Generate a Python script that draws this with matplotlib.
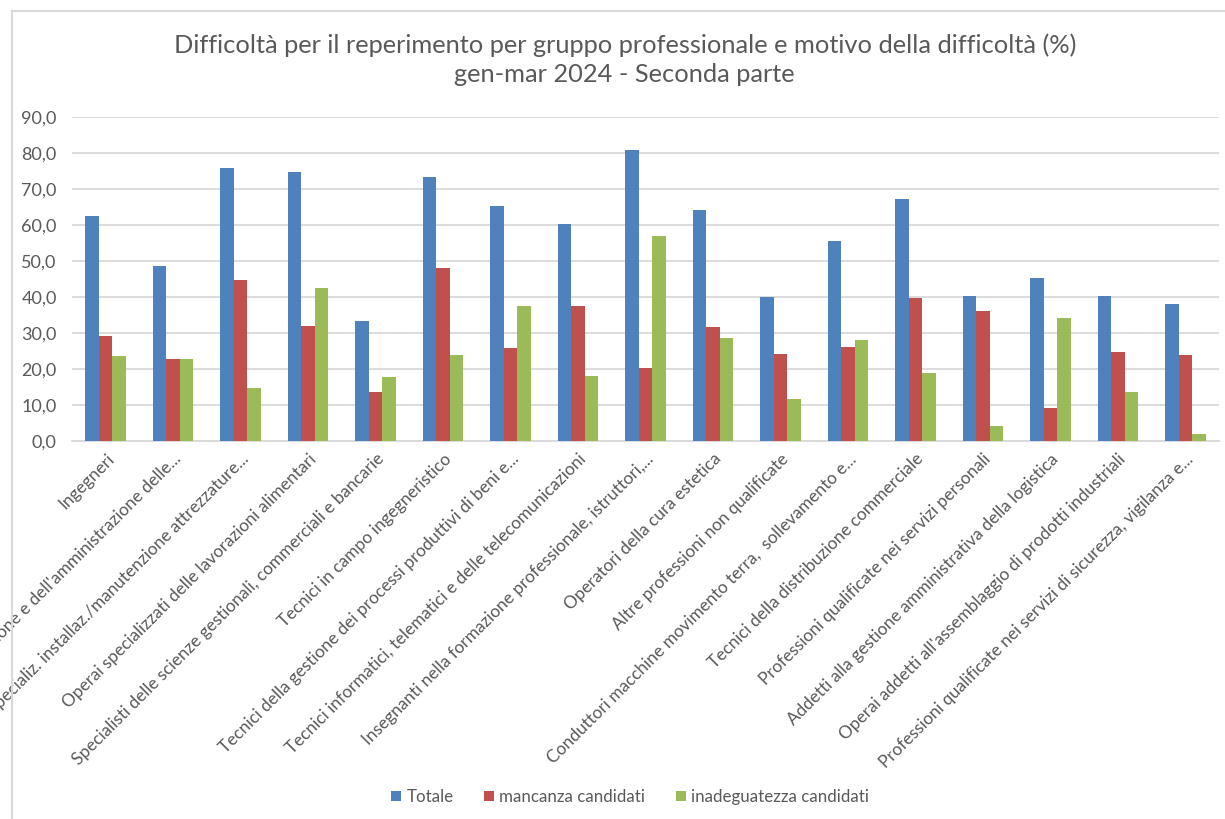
import numpy as np
import matplotlib.pyplot as plt
from matplotlib.ticker import FuncFormatter
from matplotlib.lines import Line2D

plt.rcParams['font.family'] = ['Lato', 'DejaVu Sans']

categories = [
    "Ingegneri",
    "Tecnici dell'organizzazione e dell'amministrazione delle...",
    "Operai specializ. installaz./manutenzione attrezzature...",
    "Operai specializzati delle lavorazioni alimentari",
    "Specialisti delle scienze gestionali, commerciali e bancarie",
    "Tecnici in campo ingegneristico",
    "Tecnici della gestione dei processi produttivi di beni e...",
    "Tecnici informatici, telematici e delle telecomunicazioni",
    "Insegnanti nella formazione professionale, istruttori,...",
    "Operatori della cura estetica",
    "Altre professioni non qualificate",
    "Conduttori macchine movimento terra,  sollevamento e...",
    "Tecnici della distribuzione commerciale",
    "Professioni qualificate nei servizi personali",
    "Addetti alla gestione amministrativa della logistica",
    "Operai addetti all'assemblaggio di prodotti industriali",
    "Professioni qualificate nei servizi di sicurezza, vigilanza e...",
]
totale = [62.4, 48.6, 75.8, 74.8, 33.3, 73.2, 65.3, 60.2, 80.9, 64.2, 40.1,
          55.5, 67.1, 40.4, 45.4, 40.4, 38.1]
mancanza = [29.1, 22.8, 44.6, 32.0, 13.5, 48.1, 25.7, 37.5, 20.4, 31.7, 24.3,
            26.2, 39.6, 36.2, 9.2, 24.8, 24.0]
inadeguatezza = [23.5, 22.8, 14.6, 42.5, 17.7, 23.8, 37.5, 18.0, 57.0, 28.5, 11.8,
                 28.0, 19.0, 4.2, 34.1, 13.5, 1.9]

series_names = ["Totale", "mancanza candidati", "inadeguatezza candidati"]
colors = ['#4F81BD', '#C0504D', '#9BBB59']
grey = '#595959'

fig = plt.figure(figsize=(12.25, 8.19), dpi=100)
ax = fig.add_axes([72 / 1225, 1 - 441 / 819, (1219 - 72) / 1225, (441 - 117) / 819])

x = np.arange(len(categories))
w = 0.2
for i, (vals, name, c) in enumerate(zip([totale, mancanza, inadeguatezza], series_names, colors)):
    ax.bar(x + (i - 1) * w, vals, w, color=c, label=name, zorder=3)

ax.set_xlim(-0.5, len(categories) - 0.5)
ax.set_ylim(0, 90)
ax.set_yticks(np.arange(0, 91, 10))
ax.yaxis.set_major_formatter(FuncFormatter(lambda v, p: f"{v:.1f}".replace('.', ',')))
ax.grid(axis='y', color='#D9D9D9', linewidth=1.3, zorder=0)
for s in ['top', 'right', 'left']:
    ax.spines[s].set_visible(False)
ax.spines['bottom'].set_color('#D9D9D9')
ax.spines['bottom'].set_linewidth(1.3)
ax.tick_params(axis='y', length=0, labelsize=13, labelcolor=grey, pad=11)
ax.tick_params(axis='x', length=0, pad=7)
ax.set_xticks(x)
ax.set_xticklabels(categories, rotation=45, ha='right', rotation_mode='anchor',
                   fontsize=12.4, color=grey)

fig.text(0.51, 1 - 45 / 819, "Difficoltà per il reperimento per gruppo professionale e motivo della difficoltà (%)",
         ha='center', va='center', fontsize=18.3, color=grey)
fig.text(0.51, 1 - 75 / 819, "gen-mar 2024 - Seconda parte",
         ha='center', va='center', fontsize=18.3, color=grey)

fig.legend(loc='center', bbox_to_anchor=(630 / 1225, 1 - 797 / 819), ncol=3, frameon=False,
           handlelength=0.6, handleheight=0.6, handletextpad=0.3, columnspacing=1.8,
           fontsize=12.2, labelcolor=grey)

# chart frame (left and top edges visible in the crop)
fig.add_artist(Line2D([12 / 1225, 12 / 1225], [0, 1 - 11 / 819], color='#D9D9D9', lw=1.5,
                      transform=fig.transFigure))
fig.add_artist(Line2D([12 / 1225, 1], [1 - 11 / 819, 1 - 11 / 819], color='#D9D9D9', lw=1.5,
                      transform=fig.transFigure))

fig.savefig('out.png', dpi=100, facecolor='white')
